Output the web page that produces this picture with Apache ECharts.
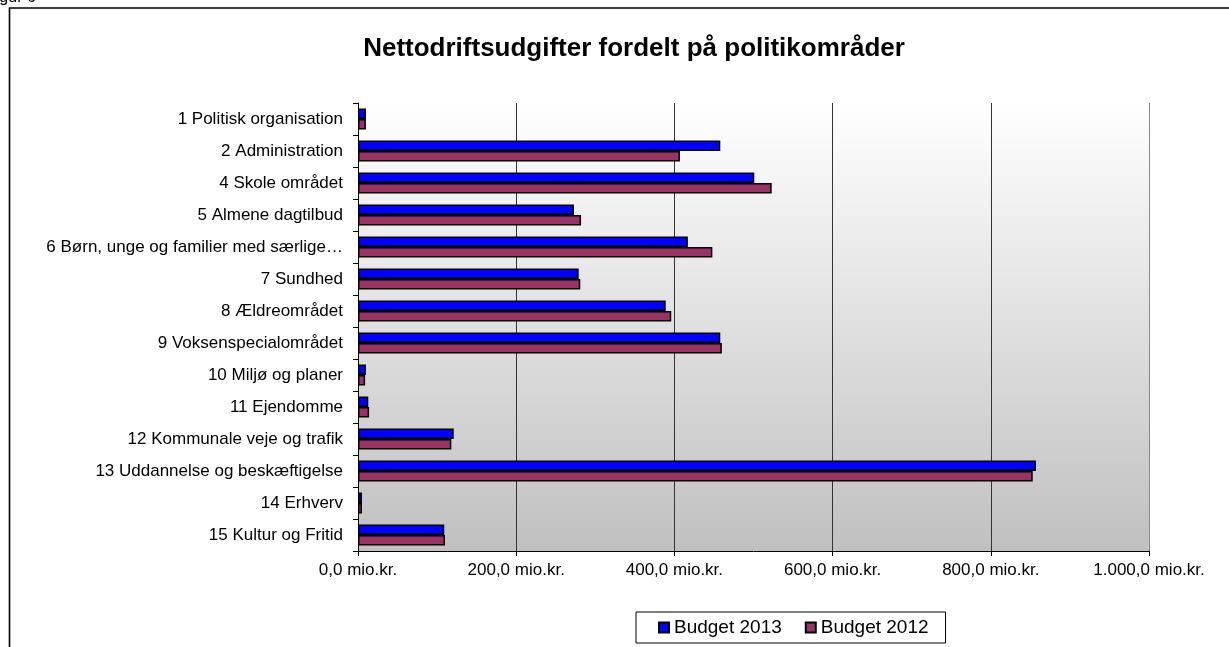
<!DOCTYPE html>
<html>
<head>
<meta charset="utf-8">
<script src="https://cdn.jsdelivr.net/npm/echarts@6/dist/echarts.min.js"></script>
<style>
html,body{margin:0;padding:0;background:#fff;}
#chart{width:1229px;height:647px;}
</style>
</head>
<body>
<div id="chart"></div>
<script>
const categories = [
  "1 Politisk organisation",
  "2 Administration",
  "4 Skole området",
  "5 Almene dagtilbud",
  "6 Børn, unge og familier med særlige…",
  "7 Sundhed",
  "8 Ældreområdet",
  "9 Voksenspecialområdet",
  "10 Miljø og planer",
  "11 Ejendomme",
  "12 Kommunale veje og trafik",
  "13 Uddannelse og beskæftigelse",
  "14 Erhverv",
  "15 Kultur og Fritid"
];
const budget2013 = [10, 458, 501, 273, 417, 279, 389, 458, 10, 13, 121, 857, 5, 109];
const budget2012 = [10, 407, 523, 282, 448, 281, 396, 460, 9, 14, 118, 853, 5, 110];
const xTickValues = [0, 200, 400, 600, 800, 1000];
const xTickLabels = ["0,0 mio.kr.", "200,0 mio.kr.", "400,0 mio.kr.", "600,0 mio.kr.", "800,0 mio.kr.", "1.000,0 mio.kr."];

const chart = echarts.init(document.getElementById('chart'), null, {renderer: 'canvas'});
const font = '"Liberation Sans", Arial, sans-serif';
chart.setOption({
  animation: false,
  textStyle: {fontFamily: font},
  title: {
    text: 'Nettodriftsudgifter fordelt på politikområder',
    left: 629, top: 31, textAlign: 'center',
    textStyle: {fontFamily: font, fontSize: 26, fontWeight: 'bold', color: '#000'}
  },
  graphic: [
    {type: 'rect', shape: {x: 9.5, y: 8, width: 1400, height: 800}, style: {fill: 'none', stroke: '#000', lineWidth: 1.6}, z: -10},
    {type: 'text', left: -14, top: -10, style: {text: 'Figur 6', font: '16px "Liberation Sans", Arial, sans-serif', fill: '#000'}}
  ],
  legend: {
    left: 636, top: 612,
    padding: [6, 17, 6, 22],
    itemGap: 23,
    borderColor: '#000', borderWidth: 1,
    itemWidth: 10, itemHeight: 10, icon: 'rect',
    textStyle: {fontFamily: font, fontSize: 19, color: '#000'},
    data: ['Budget 2013', 'Budget 2012']
  },
  grid: {
    left: 358, right: 80, top: 103, bottom: 96,
    show: true,
    borderWidth: 0,
    backgroundColor: {type: 'linear', x: 0, y: 0, x2: 0, y2: 1, colorStops: [{offset: 0, color: '#ffffff'}, {offset: 1, color: '#c0c0c0'}]}
  },
  xAxis: {
    type: 'value', min: 0, max: 1000, interval: 200,
    axisLine: {show: true, lineStyle: {color: '#000', width: 1}},
    axisTick: {show: true, length: 5, lineStyle: {color: '#000'}},
    axisLabel: {
      margin: 11, fontSize: 17, color: '#000', fontFamily: font,
      formatter: function (v) { const i = xTickValues.indexOf(v); return i >= 0 ? xTickLabels[i] : ''; }
    },
    splitLine: {show: true, lineStyle: {color: ['#333', '#333', '#333', '#333', '#333', '#8a8a8a'], width: 1}}
  },
  yAxis: {
    type: 'category', data: categories, inverse: true,
    axisLine: {show: true, lineStyle: {color: '#000', width: 1}},
    axisTick: {show: true, length: 5, lineStyle: {color: '#000'}},
    axisLabel: {margin: 15, fontSize: 17, color: '#000', fontFamily: font}
  },
  series: [
    {
      name: 'Budget 2013', type: 'bar', data: budget2013,
      barWidth: 10.5, barGap: '0%',
      itemStyle: {color: '#0000ff', borderColor: '#000', borderWidth: 1.5}
    },
    {
      name: 'Budget 2012', type: 'bar', data: budget2012,
      barWidth: 10.5, barGap: '0%',
      itemStyle: {color: '#993366', borderColor: '#000', borderWidth: 1.5}
    }
  ]
});
</script>
</body>
</html>
